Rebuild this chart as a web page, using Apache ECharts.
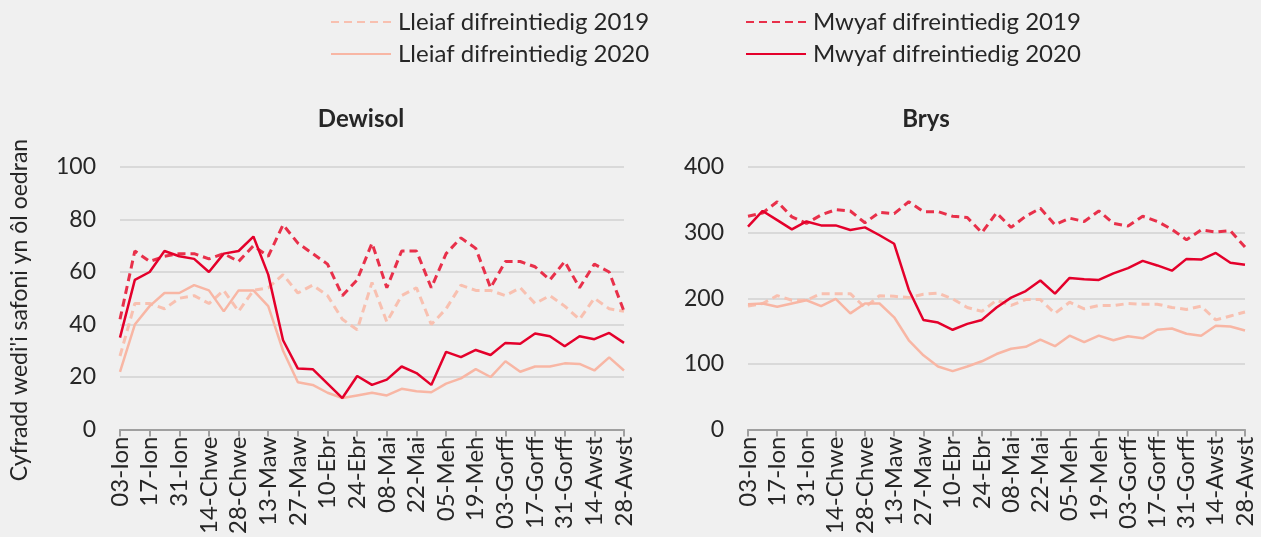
<!DOCTYPE html>
<html>
<head>
<meta charset="utf-8">
<script src="https://cdn.jsdelivr.net/npm/echarts@6/dist/echarts.min.js"></script>
<style>
html, body { margin: 0; padding: 0; background: #f0f0f0; }
#chart { width: 1261px; height: 537px; }
</style>
</head>
<body>
<div id="chart"></div>
<script>
var weeks = ['03-Ion', '10-Ion', '17-Ion', '24-Ion', '31-Ion', '07-Chwe', '14-Chwe', '21-Chwe', '28-Chwe',
	'06-Maw', '13-Maw', '20-Maw', '27-Maw', '03-Ebr', '10-Ebr', '17-Ebr', '24-Ebr', '01-Mai', '08-Mai',
	'15-Mai', '22-Mai', '29-Mai', '05-Meh', '12-Meh', '19-Meh', '26-Meh', '03-Gorff', '10-Gorff',
	'17-Gorff', '24-Gorff', '31-Gorff', '07-Awst', '14-Awst', '21-Awst', '28-Awst'];

// Dewisol
var dewLleiaf2019 = [28, 48, 48, 46, 50, 51, 48, 53, 45, 53, 54, 59, 52, 55, 51, 42, 38, 56, 41, 51, 54,
	40, 46, 55, 53, 53, 51, 54, 48, 51, 47, 42, 50, 46, 45];
var dewMwyaf2019 = [42, 68, 64, 66, 67, 67, 65, 67, 64, 70, 66, 78, 71, 67, 63, 51, 57, 71, 54, 68, 68,
	54, 67, 73, 69, 54, 64, 64, 62, 57, 64, 54, 63, 60, 45];
var dewLleiaf2020 = [22, 40, 47, 52, 52, 55, 53, 45, 53, 53, 47, 30, 18, 17, 14, 12, 13, 14, 13, 15.5,
	14.6, 14.2, 17.5, 19.5, 23, 20, 26, 22, 24, 24, 25.2, 25, 22.5, 27.5, 22.5];
var dewMwyaf2020 = [35, 57, 60, 68, 66, 65, 60, 67, 68, 73.5, 59, 34, 23.2, 23, 17.5, 12, 20.4, 17,
	19, 24, 21.5, 17, 29.6, 27.6, 30.3, 28.4, 33, 32.7, 36.6, 35.5, 31.7, 35.5, 34.4, 36.8, 33];

// Brys
var brysLleiaf2019 = [188, 192, 204, 197, 197, 207, 207, 207, 186, 204, 203, 201, 206, 208, 199, 186,
	180, 197, 189, 198, 198, 177, 194, 184, 189, 189, 192, 191, 191, 186, 183, 188, 167, 173, 179];
var brysMwyaf2019 = [325, 330, 347, 324, 314, 327, 335, 333, 315, 331, 329, 347, 332, 332, 325, 323,
	300, 330, 308, 325, 337, 312, 322, 317, 333, 314, 310, 325, 317, 305, 289, 304, 301, 303, 278];
var brysLleiaf2020 = [191, 192, 187, 192, 197, 188, 199, 177, 192, 192, 171, 136, 113, 96, 89, 96, 104,
	115, 123, 126, 137, 127, 143, 133, 143, 136, 142, 139, 152, 154, 146, 143, 158, 157, 151];
var brysMwyaf2020 = [309, 333, 319, 305, 317, 311, 311, 304, 308, 296, 283, 213, 167, 163, 152, 161, 167,
	186, 201, 211, 227, 207, 231, 229, 228, 238, 246, 257, 250, 242, 260, 259, 269, 254, 251];

var names = ['Lleiaf difreintiedig 2019', 'Mwyaf difreintiedig 2019',
	'Lleiaf difreintiedig 2020', 'Mwyaf difreintiedig 2020'];

var red = '#e4002b';
var redDash = '#e8304a';
var pink = '#f8b6a4';
var pinkDash = '#f8c0b0';
var ink = '#262626';
var font = 'Lato, "Noto Sans", sans-serif';

function xAxis(gridIndex) {
	return {
		type: 'category',
		gridIndex: gridIndex,
		data: weeks,
		boundaryGap: false,
		axisLine: { lineStyle: { color: '#a0a0a0', width: 2 } },
		axisTick: { interval: 1, length: 7, lineStyle: { color: '#a0a0a0', width: 2 } },
		axisLabel: { interval: 1, rotate: 90, fontSize: 24, color: ink, fontFamily: font, margin: 7 }
	};
}

function yAxis(gridIndex, max, interval) {
	return {
		type: 'value',
		gridIndex: gridIndex,
		min: 0,
		max: max,
		interval: interval,
		axisLine: { show: false },
		axisTick: { show: false },
		axisLabel: { fontSize: 23, color: ink, fontFamily: font, margin: 24 },
		splitLine: { lineStyle: { color: '#d9d9d9', width: 2 } }
	};
}

function line(name, data, idx, color, dashed) {
	return {
		name: name,
		type: 'line',
		xAxisIndex: idx,
		yAxisIndex: idx,
		data: data,
		symbol: 'none',
		color: color,
		lineStyle: {
			color: color,
			width: dashed ? 3 : 2.5,
			type: dashed ? [8, 5] : 'solid'
		},
		z: dashed ? 2 : 3
	};
}

function legend(items, left) {
	return {
		data: items,
		orient: 'vertical',
		left: left,
		top: 4,
		itemWidth: 60,
		itemHeight: 14,
		itemGap: 6,
		itemStyle: { opacity: 0 },
		textStyle: { fontSize: 24, lineHeight: 26, color: ink, fontFamily: font, padding: [0, 0, 0, 2] }
	};
}

var option = {
	backgroundColor: '#f0f0f0',
	animation: false,
	textStyle: { fontFamily: font },
	title: [
		{ text: 'Dewisol', left: 356, top: 102, textAlign: 'center',
			textStyle: { fontSize: 24, fontWeight: 'bold', color: ink, fontFamily: font } },
		{ text: 'Brys', left: 921, top: 102, textAlign: 'center',
			textStyle: { fontSize: 24, fontWeight: 'bold', color: ink, fontFamily: font } }
	],
	legend: [legend([names[0], names[2]], 325), legend([names[1], names[3]], 740)],
	grid: [
		{ left: 120, right: 637, top: 167, bottom: 105 },
		{ left: 748, right: 16, top: 167, bottom: 105 }
	],
	xAxis: [xAxis(0), xAxis(1)],
	yAxis: [yAxis(0, 100, 20), yAxis(1, 400, 100)],
	graphic: [{
		type: 'text',
		rotation: Math.PI / 2,
		x: 20, y: 310,
		style: {
			text: "Cyfradd wedi'i safoni yn ôl oedran",
			fontSize: 23,
			fill: ink,
			fontFamily: font,
			align: 'center',
			verticalAlign: 'middle'
		}
	}],
	series: [
		line(names[0], dewLleiaf2019, 0, pinkDash, true),
		line(names[1], dewMwyaf2019, 0, redDash, true),
		line(names[2], dewLleiaf2020, 0, pink, false),
		line(names[3], dewMwyaf2020, 0, red, false),
		line(names[0], brysLleiaf2019, 1, pinkDash, true),
		line(names[1], brysMwyaf2019, 1, redDash, true),
		line(names[2], brysLleiaf2020, 1, pink, false),
		line(names[3], brysMwyaf2020, 1, red, false)
	]
};

var graph = echarts.init(document.getElementById('chart'));
graph.setOption(option);
</script>
</body>
</html>
